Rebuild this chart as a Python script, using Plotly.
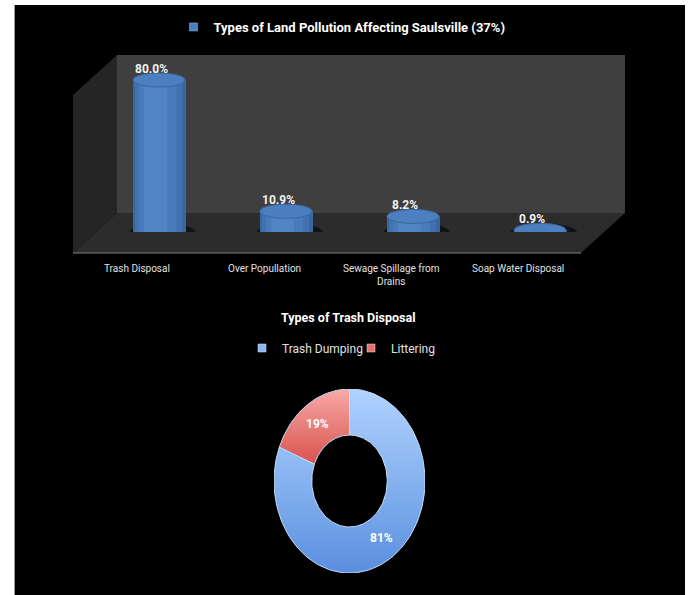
import numpy as np
import plotly.graph_objects as go

W, H = 689, 595

# ---- data -------------------------------------------------------------
categories = ["Trash Disposal", "Over Popullation",
              "Sewage Spillage from<br>Drains", "Soap Water Disposal"]
shares = [80.0, 10.9, 8.2, 0.9]
bar_series_name = "Types of Land Pollution Affecting Saulsville (37%)"

trash_types = ["Trash Dumping", "Littering"]
trash_shares = [81, 19]
trash_title = "Types of Trash Disposal"

# ---- helpers ----------------------------------------------------------
def px(x):
    return x / W


def py(y):
    return 1 - y / H


FONT = "Roboto, sans-serif"
TEXT = "#e0e0e0"

idx = list(range(len(categories)))
PX_PER_UNIT = 1.9            # vertical pixels per percentage point
Y_TOP = (232 - 60) / PX_PER_UNIT
CAP_H = 7 / PX_PER_UNIT      # half height of the cylinder ellipses
BAR_W = 0.41

fig = go.Figure()

# cylinder bodies: overlaid layers give a rounded shading
layers = [
    (BAR_W, 0.0, "#3a67a1"),
    (0.37, -0.005, "#4171af"),
    (0.29, -0.015, "#487bbb"),
    (0.18, -0.03, "#5084c4"),
]
for w, shift, col in layers:
    fig.add_trace(go.Bar(
        x=idx, y=shares, width=w, offset=shift - w / 2,
        marker=dict(color=col, line=dict(width=0)),
        name=bar_series_name, showlegend=False,
        hoverinfo="skip", xaxis="x", yaxis="y",
    ))
# legend key for the bar series
fig.add_trace(go.Scatter(
    x=[None], y=[None], mode="markers", name=bar_series_name, legend="legend",
    marker=dict(symbol="square", size=8, color="#4a7ebf",
                line=dict(color="#9cc0ee", width=0.5)),
    xaxis="x", yaxis="y",
))

shapes = []
# black panel and its thin left border
shapes.append(dict(type="rect", xref="paper", yref="paper",
                   x0=px(15), x1=px(685), y0=0, y1=py(5),
                   fillcolor="black", line=dict(width=0), layer="below"))
shapes.append(dict(type="line", xref="paper", yref="paper",
                   x0=px(14.5), x1=px(14.5), y0=0, y1=py(5),
                   line=dict(color="#9a9a9a", width=1), layer="below"))


def poly(pts):
    return "M " + " L ".join(f"{px(a)},{py(b)}" for a, b in pts) + " Z"


# 3D box: side wall, back wall, floor
shapes.append(dict(type="path", xref="paper", yref="paper",
                   path=poly([(73, 95), (117, 55), (117, 213), (73, 253)]),
                   fillcolor="#252525", line=dict(width=0), layer="below"))
shapes.append(dict(type="rect", xref="paper", yref="paper",
                   x0=px(117), x1=px(625), y0=py(213), y1=py(55),
                   fillcolor="#3f3f3f", line=dict(width=0), layer="below"))
shapes.append(dict(type="path", xref="paper", yref="paper",
                   path=poly([(117, 213), (625, 213), (581, 253), (73, 253)]),
                   fillcolor="#2c2c2c", line=dict(width=0), layer="below"))
shapes.append(dict(type="line", xref="paper", yref="paper",
                   x0=px(73), x1=px(581), y0=py(253), y1=py(253),
                   line=dict(color="#7f7f7f", width=1), layer="below"))

# shadows and rounded bases of the cylinders
for i in idx:
    shapes.append(dict(type="circle", xref="x", yref="y",
                       x0=i - BAR_W / 2 - 0.03, x1=i + BAR_W / 2 + 0.09,
                       y0=-CAP_H * 1.7, y1=CAP_H * 1.3,
                       fillcolor="rgba(0,0,0,0.55)", line=dict(width=0),
                       layer="below"))
for i in idx:
    shapes.append(dict(type="circle", xref="x", yref="y",
                       x0=i - BAR_W / 2, x1=i + BAR_W / 2,
                       y0=-CAP_H * 1.2, y1=CAP_H * 1.2,
                       fillcolor="#3d6aa5", line=dict(width=0),
                       layer="below"))
# top caps
for i, v in zip(idx, shares):
    shapes.append(dict(type="circle", xref="x", yref="y",
                       x0=i - BAR_W / 2, x1=i + BAR_W / 2,
                       y0=v - CAP_H, y1=v + CAP_H,
                       fillcolor="#4c7fc0",
                       line=dict(color="#3a679f", width=1), layer="above"))

annotations = []
for i, v in zip(idx, shares):
    annotations.append(dict(x=i, y=v, xref="x", yref="y", text=f"<b>{v:.1f}%</b>",
                            showarrow=False, xshift=-8, yshift=11,
                            font=dict(family=FONT, size=12, color="#f2f2f2")))
for i, c in zip(idx, categories):
    annotations.append(dict(x=i, y=py(261), xref="x", yref="paper", text=c,
                            showarrow=False, xshift=-22, yanchor="top",
                            font=dict(family=FONT, size=10, color=TEXT)))

# ---- doughnut (elliptical) ------------------------------------------
donut_grad = [
    [[0, "#5a8fdf"], [0.5, "#86b2ef"], [1, "#b0d2ff"]],
    [[0, "#d8524d"], [1, "#f8aaa6"]],
]
legend_colors = ["#8ab6f2", "#e5706b"]
R_IN = 0.5
total = sum(trash_shares)
start = 90.0
for name, val, grad, lc in zip(trash_types, trash_shares, donut_grad, legend_colors):
    sweep = 360.0 * val / total
    a = np.radians(np.linspace(start, start - sweep, 120))
    xs = np.concatenate([np.cos(a), R_IN * np.cos(a[::-1])])
    ys = np.concatenate([np.sin(a), R_IN * np.sin(a[::-1])])
    xs = np.append(xs, xs[0])
    ys = np.append(ys, ys[0])
    fig.add_trace(go.Scatter(
        x=xs, y=ys, mode="lines", fill="toself",
        fillgradient=dict(type="vertical", colorscale=grad),
        line=dict(color="#c4dcfb", width=1), name=name, showlegend=False,
        hoverinfo="skip", xaxis="x2", yaxis="y2",
    ))
    # legend key for the slice
    fig.add_trace(go.Scatter(
        x=[None], y=[None], mode="markers", name=name, legend="legend2",
        marker=dict(symbol="square", size=8, color=lc,
                    line=dict(color="#dfe9f7", width=0.5)),
        xaxis="x2", yaxis="y2",
    ))
    mid = np.radians(start - sweep / 2)
    annotations.append(dict(x=0.75 * np.cos(mid), y=0.75 * np.sin(mid),
                            xref="x2", yref="y2", text=f"<b>{val}%</b>",
                            showarrow=False,
                            font=dict(family=FONT, size=12, color="white")))
    start -= sweep

annotations.append(dict(x=px(348), y=py(317), xref="paper", yref="paper",
                        text=f"<b>{trash_title}</b>", showarrow=False,
                        font=dict(family=FONT, size=12.5, color="white")))

hidden = dict(visible=False, fixedrange=True)
fig.update_layout(
    width=W, height=H,
    margin=dict(l=0, r=0, t=0, b=0),
    paper_bgcolor="white", plot_bgcolor="rgba(0,0,0,0)",
    barmode="overlay", bargap=0,
    xaxis=dict(domain=[px(95.5), px(603.5)], range=[-0.5, 3.5], **hidden),
    yaxis=dict(domain=[py(232), py(60)], range=[0, Y_TOP], **hidden),
    xaxis2=dict(domain=[px(274), px(425)], range=[-1, 1], **hidden),
    yaxis2=dict(domain=[py(573), py(389)], range=[-1, 1], **hidden),
    shapes=shapes, annotations=annotations,
    legend=dict(x=px(342), y=py(27), xanchor="center", yanchor="middle",
                orientation="h", bgcolor="rgba(0,0,0,0)",
                font=dict(family=FONT, size=13, color="white", weight="bold"),
                itemwidth=30),
    legend2=dict(x=px(242), y=py(348), xanchor="left", yanchor="middle",
                 orientation="h", bgcolor="rgba(0,0,0,0)",
                 font=dict(family=FONT, size=12, color=TEXT),
                 itemwidth=30, entrywidth=64),
)

fig.write_html("out.html")
